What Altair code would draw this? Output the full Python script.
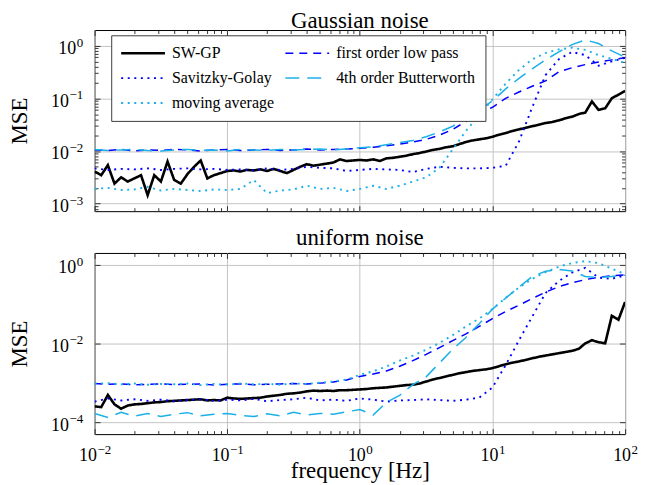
import altair as alt
import pandas as pd

# ---------------- data ----------------
FREQ = [0.01, 0.01259, 0.01585, 0.01995, 0.02512, 0.03162, 0.03981, 0.05012, 0.0631, 0.07943,
        0.1, 0.1259, 0.1585, 0.1995, 0.2512, 0.3162, 0.3981, 0.5012, 0.631, 0.7943,
        1.0, 1.259, 1.585, 1.995, 2.512, 3.162, 3.981, 5.012, 6.31, 7.943,
        10.0, 12.59, 15.85, 19.95, 25.12, 31.62, 39.81, 50.12, 63.1, 79.43, 100.0]

FREQ_FINE = [0.01, 0.01122, 0.01259, 0.01413, 0.01585, 0.01778, 0.01995, 0.02239, 0.02512, 0.02818,
             0.03162, 0.03548, 0.03981, 0.04467, 0.05012, 0.05623, 0.0631, 0.07079, 0.07943, 0.08913,
             0.1, 0.1122, 0.1259, 0.1413, 0.1585, 0.1778, 0.1995, 0.2239, 0.2512, 0.2818,
             0.3162, 0.3548, 0.3981, 0.4467, 0.5012, 0.5623, 0.631, 0.7079, 0.7943, 0.8913,
             1.0, 1.122, 1.259, 1.413, 1.585, 1.778, 1.995, 2.239, 2.512, 2.818,
             3.162, 3.548, 3.981, 4.467, 5.012, 5.623, 6.31, 7.079, 7.943, 8.913,
             10.0, 11.22, 12.59, 14.13, 15.85, 17.78, 19.95, 22.39, 25.12, 28.18,
             31.62, 35.48, 39.81, 44.67, 50.12, 56.23, 63.1, 70.79, 79.43, 89.13, 100.0]

# order chosen so that the 2-column legend reads like the reference
METHODS = ["SW-GP", "Savitzky-Golay", "moving average", "first order low pass", "4th order Butterworth"]

# Gaussian noise
G_SWGP = [4.07e-3, 3.47e-3, 5.37e-3, 2.40e-3, 3.16e-3, 2.63e-3, 3.02e-3, 3.47e-3, 1.45e-3, 3.47e-3,
          2.63e-3, 6.31e-3, 2.82e-3, 2.40e-3, 3.63e-3, 5.01e-3, 6.61e-3, 3.02e-3, 3.47e-3, 3.80e-3,
          4.17e-3, 4.27e-3, 4.07e-3, 4.37e-3, 4.27e-3, 4.47e-3, 4.17e-3, 4.57e-3, 4.17e-3, 3.80e-3,
          4.37e-3, 5.01e-3, 5.62e-3, 5.25e-3, 5.50e-3, 5.75e-3, 6.03e-3, 6.92e-3, 6.46e-3, 6.61e-3,
          6.76e-3, 6.61e-3, 6.92e-3, 6.46e-3, 7.24e-3, 7.41e-3, 7.76e-3, 8.13e-3, 8.71e-3, 9.12e-3,
          9.77e-3, 1.047e-2, 1.096e-2, 1.175e-2, 1.230e-2, 1.349e-2, 1.479e-2, 1.585e-2, 1.660e-2, 1.738e-2,
          1.862e-2, 2.042e-2, 2.188e-2, 2.399e-2, 2.570e-2, 2.754e-2, 2.951e-2, 3.162e-2, 3.388e-2, 3.548e-2,
          3.802e-2, 4.169e-2, 4.467e-2, 5.012e-2, 5.370e-2, 8.710e-2, 6.026e-2, 6.457e-2, 0.1, 0.1175, 0.138]
G_LP = [1.047e-2, 1.023e-2, 1.072e-2, 1.000e-2, 1.047e-2, 1.023e-2, 1.072e-2, 1.047e-2, 1.000e-2, 1.047e-2,
        1.072e-2, 1.023e-2, 1.047e-2, 1.072e-2, 1.023e-2, 1.047e-2, 1.096e-2, 1.047e-2, 1.072e-2, 1.096e-2,
        1.122e-2, 1.175e-2, 1.259e-2, 1.349e-2, 1.479e-2, 1.660e-2, 1.995e-2, 2.570e-2, 3.631e-2, 5.129e-2,
        6.761e-2, 0.1, 0.1318, 0.1698, 0.2138, 0.3162, 0.3802, 0.4365, 0.4898, 0.5370, 0.5888]
G_SG = [4.677e-3, 4.365e-3, 4.571e-3, 4.467e-3, 4.677e-3, 4.365e-3, 4.571e-3, 4.677e-3, 4.467e-3, 4.571e-3,
        4.365e-3, 4.467e-3, 4.266e-3, 4.677e-3, 4.365e-3, 4.571e-3, 5.012e-3, 4.786e-3, 4.677e-3, 4.169e-3,
        4.365e-3, 4.571e-3, 4.467e-3, 4.365e-3, 3.981e-3, 4.571e-3, 5.012e-3, 4.786e-3, 4.677e-3, 4.677e-3,
        4.786e-3, 5.248e-3, 1.514e-2, 6.761e-2, 0.2754, 0.5495, 0.7586, 0.6607, 0.4169, 0.5012, 0.5888]
G_BW = [1.072e-2, 1.023e-2, 1.047e-2, 1.072e-2, 1.023e-2, 1.000e-2, 1.047e-2, 1.072e-2, 1.023e-2, 1.047e-2,
        1.000e-2, 1.072e-2, 1.047e-2, 1.023e-2, 1.072e-2, 1.047e-2, 1.072e-2, 1.096e-2, 1.047e-2, 1.096e-2,
        1.148e-2, 1.202e-2, 1.318e-2, 1.445e-2, 1.585e-2, 1.862e-2, 2.291e-2, 2.951e-2, 4.074e-2, 6.026e-2,
        8.913e-2, 0.1514, 0.2399, 0.3631, 0.5370, 0.7586, 1.047, 1.288, 1.096, 0.7943, 0.6026]
G_MA = [1.905e-3, 1.995e-3, 1.820e-3, 1.862e-3, 2.089e-3, 1.778e-3, 1.905e-3, 1.820e-3, 1.738e-3, 1.862e-3,
        1.820e-3, 1.905e-3, 2.818e-3, 1.585e-3, 1.778e-3, 1.862e-3, 2.188e-3, 1.905e-3, 1.995e-3, 1.738e-3,
        1.905e-3, 2.188e-3, 1.905e-3, 2.188e-3, 2.630e-3, 3.162e-3, 4.786e-3, 1.072e-2, 2.399e-2, 4.786e-2,
        9.550e-2, 0.1905, 0.3467, 0.5495, 0.7244, 0.8511, 0.9120, 0.8318, 0.6607, 0.5623, 0.4677]

# uniform noise
U_SWGP = [2.512e-4, 2.399e-4, 4.898e-4, 2.818e-4, 2.188e-4, 2.630e-4, 2.818e-4, 2.884e-4, 3.020e-4, 3.162e-4,
          3.236e-4, 3.388e-4, 3.467e-4, 3.548e-4, 3.631e-4, 3.715e-4, 3.802e-4, 3.548e-4, 3.631e-4, 3.548e-4,
          4.169e-4, 3.981e-4, 3.890e-4, 3.981e-4, 4.074e-4, 4.169e-4, 4.467e-4, 4.677e-4, 4.898e-4, 5.248e-4,
          5.370e-4, 5.623e-4, 6.026e-4, 6.310e-4, 6.166e-4, 6.310e-4, 6.166e-4, 6.457e-4, 6.457e-4, 6.607e-4,
          6.761e-4, 6.918e-4, 7.244e-4, 7.413e-4, 7.586e-4, 7.943e-4, 8.318e-4, 8.710e-4, 8.913e-4, 9.550e-4,
          1.072e-3, 1.202e-3, 1.318e-3, 1.445e-3, 1.585e-3, 1.738e-3, 1.862e-3, 1.995e-3, 2.089e-3, 2.188e-3,
          2.344e-3, 2.630e-3, 2.951e-3, 3.236e-3, 3.467e-3, 3.802e-3, 4.169e-3, 4.571e-3, 4.898e-3, 5.248e-3,
          5.623e-3, 6.026e-3, 6.457e-3, 7.244e-3, 1.000e-2, 1.202e-2, 1.072e-2, 1.000e-2, 5.012e-2, 3.981e-2, 0.1122]
U_LP = [9.550e-4, 9.120e-4, 9.333e-4, 8.913e-4, 9.120e-4, 9.333e-4, 8.913e-4, 9.120e-4, 9.333e-4, 8.710e-4,
        9.120e-4, 9.333e-4, 8.913e-4, 9.120e-4, 9.333e-4, 9.550e-4, 9.333e-4, 9.772e-4, 1.047e-3, 1.175e-3,
        1.445e-3, 1.660e-3, 1.995e-3, 2.630e-3, 3.631e-3, 5.248e-3, 7.762e-3, 1.175e-2, 1.738e-2, 2.692e-2,
        4.266e-2, 6.457e-2, 9.333e-2, 0.1380, 0.1995, 0.2754, 0.3467, 0.4169, 0.4786, 0.5248, 0.5495]
U_SG = [3.311e-4, 3.981e-4, 3.548e-4, 3.802e-4, 3.467e-4, 3.715e-4, 3.388e-4, 3.631e-4, 3.802e-4, 3.467e-4,
        3.715e-4, 3.548e-4, 3.890e-4, 3.388e-4, 3.631e-4, 3.802e-4, 4.169e-4, 3.548e-4, 3.715e-4, 3.467e-4,
        3.981e-4, 3.715e-4, 3.311e-4, 3.548e-4, 3.631e-4, 3.802e-4, 3.631e-4, 3.467e-4, 3.715e-4, 4.169e-4,
        7.586e-4, 2.818e-3, 1.202e-2, 4.786e-2, 0.1905, 0.3802, 0.6310, 0.8318, 0.4677, 0.4365, 0.5370]
U_BW = [1.660e-4, 1.318e-4, 1.778e-4, 1.413e-4, 1.660e-4, 1.380e-4, 1.585e-4, 1.738e-4, 1.445e-4, 1.585e-4,
        1.660e-4, 1.479e-4, 1.380e-4, 1.622e-4, 1.445e-4, 1.778e-4, 1.514e-4, 1.660e-4, 1.585e-4, 1.820e-4,
        2.089e-4, 1.514e-4, 3.162e-4, 4.786e-4, 8.913e-4, 1.413e-3, 3.162e-3, 7.079e-3, 1.413e-2, 3.162e-2,
        7.413e-2, 0.1413, 0.2692, 0.5012, 0.6761, 0.7586, 0.6918, 0.5012, 0.4677, 0.5012, 0.5370]
U_MA = [9.333e-4, 9.772e-4, 9.120e-4, 9.550e-4, 8.913e-4, 9.333e-4, 9.120e-4, 9.550e-4, 8.710e-4, 9.333e-4,
        8.913e-4, 9.550e-4, 9.120e-4, 9.333e-4, 8.913e-4, 9.550e-4, 9.333e-4, 1.000e-3, 1.072e-3, 1.202e-3,
        1.585e-3, 1.950e-3, 2.570e-3, 3.631e-3, 4.898e-3, 6.918e-3, 1.023e-2, 1.622e-2, 2.692e-2, 4.266e-2,
        7.413e-2, 0.1445, 0.2630, 0.4365, 0.6457, 0.8913, 1.096, 1.230, 1.096, 0.7943, 0.5754]

# ---------------- ticks / labels ----------------
X_MAJOR = [0.01, 0.1, 1, 10, 100]
X_NEG = [0.01, 0.1]
X_POS = [1, 10, 100]
X_MINOR = [0.02, 0.03, 0.04, 0.05, 0.06, 0.07, 0.08, 0.09,
           0.2, 0.3, 0.4, 0.5, 0.6, 0.7, 0.8, 0.9,
           2, 3, 4, 5, 6, 7, 8, 9,
           20, 30, 40, 50, 60, 70, 80, 90]
YG_MAJOR = [0.001, 0.01, 0.1, 1]
YG_MINOR = [0.0008, 0.0009, 0.002, 0.003, 0.004, 0.005, 0.006, 0.007, 0.008, 0.009,
            0.02, 0.03, 0.04, 0.05, 0.06, 0.07, 0.08, 0.09,
            0.2, 0.3, 0.4, 0.5, 0.6, 0.7, 0.8, 0.9]
YU_MAJOR = [0.0001, 0.01, 1]
YG_DOMAIN = [7.2e-4, 1.98]
YU_DOMAIN = [4.95e-5, 1.98]

X_EXP_NEG = "datum.value < 0.05 ? '\u22122' : '\u22121'"
X_EXP_POS = "datum.value < 5 ? '0' : datum.value < 50 ? '1' : '2'"
YG_EXP = ("datum.value < 0.005 ? '\u22123' : datum.value < 0.05 ? '\u22122' : "
          "datum.value < 0.5 ? '\u22121' : '0'")
YU_EXP = "datum.value < 0.001 ? '\u22124' : datum.value < 0.1 ? '\u22122' : '0'"

# ---------------- style ----------------
FONT = "Liberation Serif"
CYAN = "#1cb0e8"
COLORS = ["#000000", "#0000ff", CYAN, "#0000ff", CYAN]
DASHES = [[1, 0], [2, 4.6], [2, 4.6], [8, 6], [14, 8]]
WIDTHS = [2.6, 1.9, 1.9, 1.5, 1.5]
GRID = "#c4c4c4"
BASE_FS = 18      # "10"
EXP_FS = 13       # exponent
W_EXP1 = 6.5      # width of one exponent digit
W_EXPM = 13.8     # width of minus + digit
GAP = 0.5


def make_table(sw, lp, sg, bw, ma):
    rows = []
    for f, v in zip(FREQ_FINE, sw):
        rows.append({"freq": f, "mse": v, "method": "SW-GP"})
    for name, vals in [("first order low pass", lp), ("Savitzky-Golay", sg),
                       ("4th order Butterworth", bw), ("moving average", ma)]:
        for f, v in zip(FREQ, vals):
            rows.append({"freq": f, "mse": v, "method": name})
    return pd.DataFrame(rows)


def tick_axis(orient, values, size):
    return alt.Axis(orient=orient, values=values, tickSize={"expr": str(-size)},
                    labels=False, domain=False, grid=False, title=None,
                    tickColor="#222222", tickWidth=0.9, minExtent=0, maxExtent=0)


def label_axis(orient, values, expr, fs, align, padding, offset, **kw):
    return alt.Axis(orient=orient, values=values, labelExpr=expr, labelFont=FONT,
                    labelFontSize=fs, labelColor="black", labelAlign=align,
                    labelPadding=padding, labelOffset=offset, labelFlush=False,
                    labelOverlap=False, ticks=False, domain=False, grid=False, **kw)


def grid_axis(orient, values, **kw):
    return alt.Axis(orient=orient, values=values, grid=True, gridColor=GRID, gridWidth=1,
                    ticks=False, domain=False, labels=False, **kw)


def panel(df, title, title_offset, y_domain, y_major, y_minor, y_exp, bottom):
    xs = alt.Scale(type="log", domain=[0.01, 100], nice=False)
    ys = alt.Scale(type="log", domain=y_domain, nice=False)
    base = alt.Chart(df)

    # x axes
    x_axes = []
    if bottom:
        x_axes.append(grid_axis("bottom", X_MAJOR, title="frequency [Hz]", titleFont=FONT,
                                titleFontSize=23, titleFontWeight="normal", titleColor="black",
                                titleY=44, titleBaseline="alphabetic"))
    else:
        x_axes.append(grid_axis("bottom", X_MAJOR, title=None, minExtent=0, maxExtent=0))
    x_axes += [tick_axis("bottom", X_MAJOR, 5.5), tick_axis("bottom", X_MINOR, 3.5),
               tick_axis("top", X_MAJOR, 5.5), tick_axis("top", X_MINOR, 3.5)]
    if bottom:
        x_axes += [
            label_axis("bottom", X_NEG, "'10'", BASE_FS, "center", 13, -(GAP + W_EXPM) / 2, title=None),
            label_axis("bottom", X_POS, "'10'", BASE_FS, "center", 13, -(GAP + W_EXP1) / 2, title=None),
            label_axis("bottom", X_NEG, X_EXP_NEG, EXP_FS, "left", 9.3,
                       (BASE_FS + GAP - W_EXPM) / 2, title=None),
            label_axis("bottom", X_POS, X_EXP_POS, EXP_FS, "left", 9.3,
                       (BASE_FS + GAP - W_EXP1) / 2, title=None),
        ]

    # y axes
    y_neg = [v for v in y_major if v < 0.5]
    y_axes = [grid_axis("left", y_major, title=None)]
    if y_minor:
        y_axes += [tick_axis("left", y_major, 5.5), tick_axis("left", y_minor, 3.5),
                   tick_axis("right", y_major, 5.5), tick_axis("right", y_minor, 3.5)]
    else:
        y_axes += [tick_axis("left", y_major, 5.5), tick_axis("right", y_major, 5.5)]
    y_axes += [
        label_axis("left", [1], "'10'", BASE_FS, "right", 12 + W_EXP1 + GAP, 3, title=None),
        label_axis("left", y_neg, "'10'", BASE_FS, "right", 12 + W_EXPM + GAP, 3,
                   title="MSE", titleFont=FONT, titleFontSize=23, titleFontWeight="normal",
                   titleColor="black", titlePadding=19),
        label_axis("left", y_major, y_exp, EXP_FS, "right", 12, -3.5, title=None),
    ]

    n = max(len(x_axes), len(y_axes))
    x_axes += [None] * (n - len(x_axes))
    y_axes += [None] * (n - len(y_axes))

    if bottom:
        legend = None
    else:
        legend = alt.Legend(title=None, orient="none", legendX=16.7, legendY=5.3, columns=2,
                            symbolType="M-1.6,0H7.2", symbolSize=100, labelFont=FONT,
                            labelFontSize=16, labelColor="black", labelLimit=400,
                            labelOffset=35, padding=10, rowPadding=9, columnPadding=8,
                            fillColor="white", strokeColor="#3c3c3c", zindex=2)

    color = alt.Color("method:N", scale=alt.Scale(domain=METHODS, range=COLORS), legend=legend)
    dash = alt.StrokeDash("method:N", scale=alt.Scale(domain=METHODS, range=DASHES), legend=legend)
    width = alt.StrokeWidth("method:N", scale=alt.Scale(type="ordinal", domain=METHODS, range=WIDTHS),
                            legend=legend)

    layers = [base.mark_line(clip=True).encode(
        x=alt.X("freq:Q", scale=xs, axis=x_axes[0]),
        y=alt.Y("mse:Q", scale=ys, axis=y_axes[0]),
        color=color, strokeDash=dash, strokeWidth=width,
    )]
    for xa, ya in zip(x_axes[1:], y_axes[1:]):
        layers.append(base.mark_point(opacity=0).encode(
            x=alt.X("freq:Q", scale=xs, axis=xa),
            y=alt.Y("mse:Q", scale=ys, axis=ya),
        ))

    return alt.layer(*layers).resolve_axis(x="independent", y="independent").properties(
        width=533, height=182,
        title=alt.Title(title, font=FONT, fontSize=23, fontWeight="normal", color="black",
                        anchor="middle", offset=title_offset),
    )


top = panel(make_table(G_SWGP, G_LP, G_SG, G_BW, G_MA), "Gaussian noise", -3,
            YG_DOMAIN, YG_MAJOR, YG_MINOR, YG_EXP, bottom=False)
bot = panel(make_table(U_SWGP, U_LP, U_SG, U_BW, U_MA), "uniform noise", 3,
            YU_DOMAIN, YU_MAJOR, [], YU_EXP, bottom=True)

chart = alt.vconcat(top, bot, spacing=10).resolve_legend(
    color="independent", strokeDash="independent", strokeWidth="independent"
).properties(
    padding={"left": 0, "top": 0, "right": 5, "bottom": 0}
).configure_view(stroke="black", strokeWidth=1).configure_legend(strokeWidth=1)

chart.save("out.html", embed_options={"renderer": "svg", "actions": False})
